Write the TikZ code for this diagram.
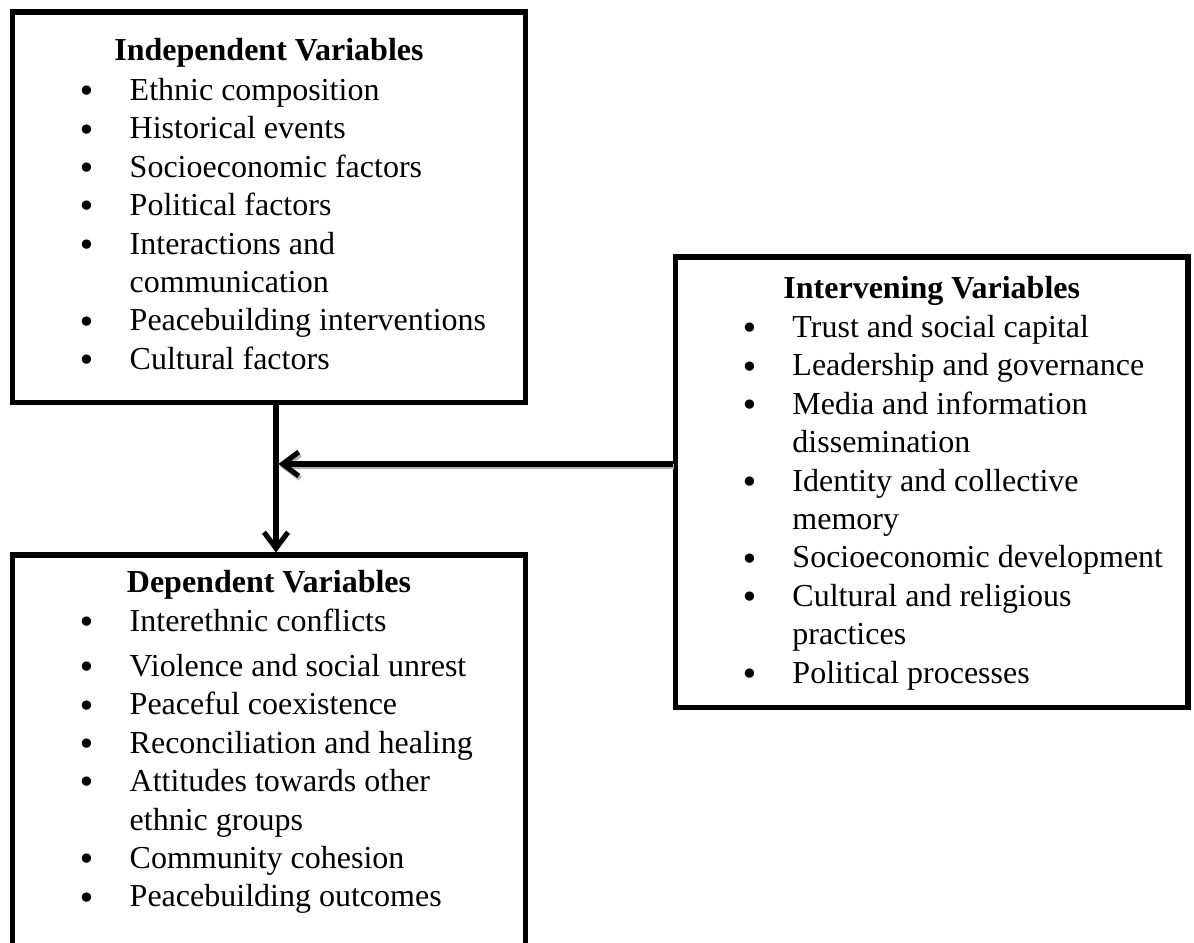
\documentclass[tikz,border=0pt]{standalone}
\usepackage{fontspec}
\setmainfont{Liberation Serif}
\newfontfamily\bulfont{DejaVu Sans}
\usetikzlibrary{positioning,calc,arrows.meta}

\newcommand{\bul}{\raisebox{-0.8pt}{\bulfont\textbullet}}

\tikzset{
    varbox/.style={draw, rectangle, line width=1.9pt, inner sep=0pt, minimum width=192.2pt},
    boxhead/.style={anchor=base, inner sep=0pt, font=\fontsize{12}{14.4}\selectfont\bfseries},
    boxlist/.style={anchor=base west, inner sep=0pt, font=\fontsize{12}{14.4}\selectfont},
    link/.style={line width=1.9pt, -{Straight Barb[length=6pt,width=9pt]}},
}

\begin{document}
\begin{tikzpicture}[x=0.375pt, y=-0.375pt]
    \useasboundingbox (0,0) rectangle (1194,943);
    \fill[white] (0,0) rectangle (1194,943);
    \clip (0,0) rectangle (1194,943);

    % the three boxes
    \node [varbox, minimum height=146.6pt] (ind) at (269,207.5) {};
    \node [varbox, minimum height=168.75pt] (dep) at (269,780) {};
    \node [varbox, minimum height=169.1pt] (int) at (931.75,482.5) {};

    \node [boxhead] (indhead) at ($(ind.north)+(0,51)$) {Independent Variables};
    \node [boxlist] (indlist) at ($(ind.north west)+(67,91)$) {%
        \begin{tabular}[t]{@{}p{19.5pt}@{}l@{}}
        \bul & Ethnic composition\\
        \bul & Historical events\\
        \bul & Socioeconomic factors\\
        \bul & Political factors\\
        \bul & Interactions and\\
             & communication\\
        \bul & Peacebuilding interventions\\
        \bul & Cultural factors
        \end{tabular}};

    \node [boxhead] (dephead) at ($(dep.north)+(0,40)$) {Dependent Variables};
    \node [boxlist] (deplist) at ($(dep.north west)+(67,79)$) {%
        \begin{tabular}[t]{@{}p{19.5pt}@{}l@{}}
        \bul & Interethnic conflicts\\[2.5pt]
        \bul & Violence and social unrest\\
        \bul & Peaceful coexistence\\
        \bul & Reconciliation and healing\\
        \bul & Attitudes towards other\\
             & ethnic groups\\
        \bul & Community cohesion\\
        \bul & Peacebuilding outcomes
        \end{tabular}};

    \node [boxhead] (inthead) at ($(int.north)+(0,44)$) {Intervening Variables};
    \node [boxlist] (intlist) at ($(int.north west)+(67,83)$) {%
        \begin{tabular}[t]{@{}p{19.5pt}@{}l@{}}
        \bul & Trust and social capital\\
        \bul & Leadership and governance\\
        \bul & Media and information\\
             & dissemination\\
        \bul & Identity and collective\\
             & memory\\
        \bul & Socioeconomic development\\
        \bul & Cultural and religious\\
             & practices\\
        \bul & Political processes
        \end{tabular}};

    % connectors
    \coordinate (join) at (276,464);
    \draw [link] (ind.south -| join) -- (dep.north -| join);
    \draw [link, gray!60] ($(int.west |- join)+(1,2.5)$) -- ($(join)+(4,2.5)$);
    \draw [link] (int.west |- join) -- ($(join)+(2.5,0)$);
\end{tikzpicture}
\end{document}
